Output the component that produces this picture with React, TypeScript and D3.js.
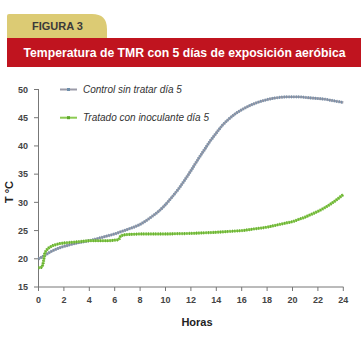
import React from "react";
import * as d3 from "d3";

const title = "Temperatura de TMR con 5 días de exposición aeróbica";
const figureLabel = "FIGURA 3";
const xTicks = [0, 2, 4, 6, 8, 10, 12, 14, 16, 18, 20, 22, 24];
const yTicks = [15, 20, 25, 30, 35, 40, 45, 50];
const seriesNames = ["Control sin tratar día 5", "Tratado con inoculante día 5"];

const controlHours = [0, 0.5, 1, 1.5, 2, 2.5, 3, 3.5, 4, 4.5, 5, 5.5, 6, 6.5, 7, 7.5, 8, 8.5, 9, 9.5, 10, 10.5, 11, 11.5, 12, 12.5, 13, 13.5, 14, 14.5, 15, 15.5, 16, 16.5, 17, 17.5, 18, 18.5, 19, 19.5, 20, 20.5, 21, 21.5, 22, 22.5, 23, 23.5, 24];
const controlTemps = [20.0, 20.6, 21.3, 21.8, 22.2, 22.5, 22.8, 23.0, 23.2, 23.5, 23.8, 24.1, 24.4, 24.8, 25.2, 25.6, 26.1, 26.8, 27.6, 28.5, 29.6, 30.9, 32.3, 33.9, 35.6, 37.4, 39.1, 40.8, 42.3, 43.7, 44.8, 45.7, 46.4, 47.0, 47.5, 47.9, 48.2, 48.45, 48.6, 48.7, 48.7, 48.7, 48.6, 48.5, 48.4, 48.3, 48.1, 47.9, 47.7];

const treatedHours = [0, 0.25, 0.4, 0.5, 0.75, 1, 1.5, 2, 2.5, 3, 3.5, 4, 4.5, 5, 5.5, 6, 6.3, 6.5, 7, 7.5, 8, 9, 10, 11, 12, 13, 14, 15, 16, 17, 18, 18.5, 19, 19.5, 20, 20.5, 21, 21.5, 22, 22.5, 23, 23.5, 24];
const treatedTemps = [18.4, 18.5, 19.6, 21.0, 21.8, 22.2, 22.6, 22.8, 22.9, 23.0, 23.1, 23.2, 23.2, 23.2, 23.2, 23.3, 23.4, 24.1, 24.3, 24.35, 24.4, 24.4, 24.4, 24.45, 24.5, 24.6, 24.7, 24.85, 25.0, 25.3, 25.6, 25.85, 26.1, 26.35, 26.6, 27.0, 27.4, 27.9, 28.4, 29.0, 29.7, 30.5, 31.4];

const colors = {
  control: "#9b9ba8",
  controlMark: "#6e8eaa",
  treated: "#8ccb52",
  treatedMark: "#5ea82c",
};

export default function App() {
  const W = 363, H = 338;
  const x = d3.scaleLinear().domain([0, 24]).range([38.5, 343.3]);
  const y = d3.scaleLinear().domain([15, 50]).range([287, 89.5]);
  const line = d3
    .line<[number, number]>()
    .x((d) => x(d[0]))
    .y((d) => y(d[1]))
    .curve(d3.curveMonotoneX);
  const cData = controlHours.map((h, i) => [h, controlTemps[i]] as [number, number]);
  const tData = treatedHours.map((h, i) => [h, treatedTemps[i]] as [number, number]);
  const font = "'Liberation Sans', Arial, sans-serif";

  const tabPath = `M7,38 L7,16 Q7,14 9,14 L92,14 Q107,14 107,29 L107,38 Z`;

  return (
    <svg width={W} height={H} style={{ position: "absolute", left: 0, top: 0, background: "#fff" }}>
      <rect x={0} y={0} width={W} height={H} fill="#fff" />
      <path d={tabPath} fill="#dccb74" />
      <text x={32} y={29.5} fontFamily={font} fontWeight="bold" fontSize={11} fill="#3a3a3a">
        {figureLabel}
      </text>
      <rect x={7} y={38} width={354} height={29} fill="#c0141f" />
      <text x={184.5} y={57} textAnchor="middle" fontFamily={font} fontWeight="bold" fontSize={12.8} fill="#fff" textLength={322} lengthAdjust="spacingAndGlyphs">
        {title}
      </text>

      {/* axes */}
      <line x1={38.5} x2={38.5} y1={89} y2={287} stroke="#777" strokeWidth={1} />
      <line x1={38.5} x2={343.5} y1={287} y2={287} stroke="#777" strokeWidth={1} />
      {yTicks.map((t) => (
        <g key={"y" + t}>
          <line x1={34} x2={38.5} y1={y(t)} y2={y(t)} stroke="#777" />
          <text x={28} y={y(t) + 3.2} textAnchor="end" fontFamily={font} fontWeight="bold" fontSize={9} fill="#444">
            {t}
          </text>
        </g>
      ))}
      {xTicks.map((t) => (
        <g key={"x" + t}>
          <line x1={x(t)} x2={x(t)} y1={287} y2={291} stroke="#777" />
          <text x={x(t)} y={303} textAnchor="middle" fontFamily={font} fontWeight="bold" fontSize={9} fill="#444">
            {t}
          </text>
        </g>
      ))}
      <text x={197} y={326} textAnchor="middle" fontFamily={font} fontWeight="bold" fontSize={11} fill="#222">
        Horas
      </text>
      <text transform="translate(12.5,192) rotate(-90)" textAnchor="middle" fontFamily={font} fontWeight="bold" fontSize={11} fill="#222">
        T °C
      </text>

      {/* series */}
      <path d={line(cData) || ""} fill="none" stroke={colors.control} strokeWidth={2.4} />
      <path d={line(cData) || ""} fill="none" stroke={colors.controlMark} strokeWidth={3.2} strokeDasharray="0.8 1.6" />
      <path d={line(tData) || ""} fill="none" stroke={colors.treated} strokeWidth={2.4} />
      <path d={line(tData) || ""} fill="none" stroke={colors.treatedMark} strokeWidth={3.2} strokeDasharray="0.8 1.6" />

      {/* legend */}
      <line x1={60} x2={77} y1={89.5} y2={89.5} stroke={colors.control} strokeWidth={2} />
      <rect x={67} y={88} width={3} height={3} fill={colors.controlMark} />
      <text x={83} y={93} fontFamily={font} fontStyle="italic" fontSize={10} fill="#333">
        {seriesNames[0]}
      </text>
      <line x1={60} x2={77} y1={117.7} y2={117.7} stroke={colors.treated} strokeWidth={2} />
      <rect x={67} y={116.2} width={3} height={3} fill={colors.treatedMark} />
      <text x={83} y={121.2} fontFamily={font} fontStyle="italic" fontSize={10} fill="#333">
        {seriesNames[1]}
      </text>
    </svg>
  );
}
